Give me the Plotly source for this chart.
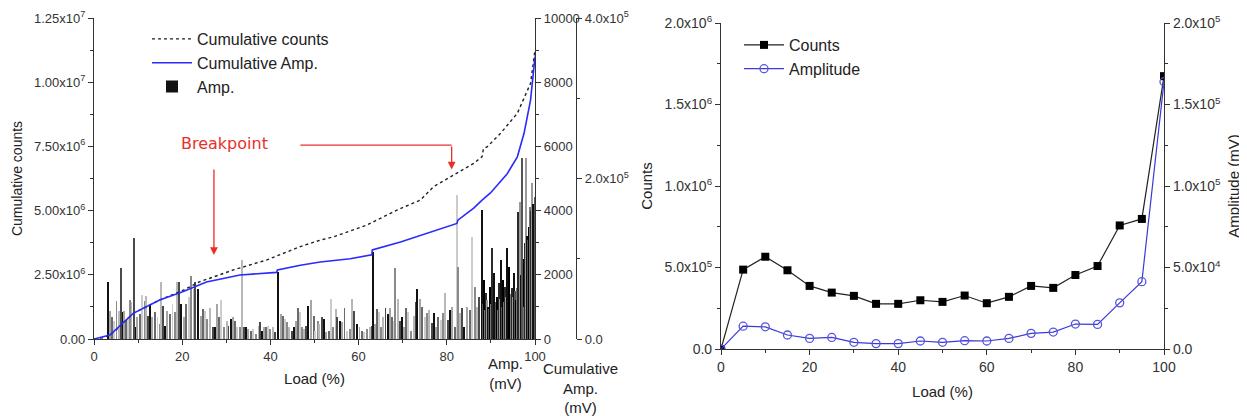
import plotly.graph_objects as go

# ---- left panel: amplitude bars + cumulative curves ----
bar_load = [3.2, 3.6, 4.0, 4.5, 5.1, 5.7, 6.1, 6.5, 6.8, 7.2, 7.8, 8.1, 8.5, 9.0, 9.5, 9.8,
            10.4, 10.9, 11.5, 11.9, 12.3, 12.6, 13.2, 13.8, 14.4, 14.9, 15.3, 15.7, 16.2, 16.6,
            17.2, 17.8, 18.3, 18.8, 19.3, 19.8, 20.4, 20.9, 21.5, 22.1, 22.6, 23.0, 23.6, 24.2,
            24.7, 25.2, 25.7, 26.4, 26.9, 27.4, 27.9, 28.4, 28.9, 29.5, 30.1, 30.5, 31.0, 31.5,
            32.0, 32.5, 33.0, 33.5, 34.0, 34.5, 35.0, 35.6, 36.1, 36.7, 37.3, 37.7, 38.0, 38.5,
            39.0, 39.5, 40.0, 40.5, 41.0, 41.7, 42.4, 42.8, 43.3, 43.8, 44.3, 44.8, 45.3, 45.8,
            46.2, 46.7, 47.1, 47.6, 48.1, 48.6, 49.2, 49.8, 50.2, 50.7, 51.1, 51.7, 52.1, 52.7,
            53.2, 53.7, 54.3, 54.8, 55.2, 55.8, 56.3, 56.8, 57.4, 58.0, 58.5, 59.0, 59.6, 60.2,
            60.8, 61.3, 61.9, 62.5, 63.0, 63.3, 63.8, 64.2, 64.6, 65.1, 65.6, 66.1, 66.6, 67.1,
            67.6, 68.0, 68.3, 68.9, 69.3, 69.8, 70.3, 70.8, 71.3, 71.9, 72.5, 73.0, 73.3, 73.9,
            74.4, 75.0, 75.5, 76.0, 76.6, 77.2, 77.6, 78.1, 78.6, 79.2, 79.7, 80.2, 80.7, 81.2,
            81.8, 82.3, 82.6, 83.0, 83.5, 84.0, 84.6, 85.2, 85.8, 86.3, 86.8, 87.3, 87.9, 88.2,
            88.4, 88.7, 88.9, 89.1, 89.4, 89.6, 89.9, 90.1, 90.3, 90.6, 90.8, 91.1, 91.3, 91.6,
            91.8, 92.0, 92.2, 92.5, 92.7, 93.0, 93.2, 93.5, 93.7, 94.0, 94.2, 94.5, 94.7, 95.0,
            95.2, 95.5, 95.7, 96.0, 96.2, 96.6, 96.9, 97.1, 97.4, 97.6, 97.8, 98.0, 98.2, 98.4,
            98.7, 98.9, 99.2, 99.4, 99.6, 99.9]
bar_amp = [1765, 880, 675, 570, 1195, 880, 2210, 830, 880, 570, 675, 1225, 1140, 3145, 385, 675,
           780, 1380, 1195, 1350, 725, 1070, 675, 830, 675, 465, 1765, 1040, 415, 880,
           780, 1090, 830, 1765, 1765, 1090, 675, 1090, 1300, 1970, 1560, 1765, 1560, 725,
           935, 880, 625, 965, 385, 365, 1090, 675, 1225, 365, 570, 415, 625, 675,
           570, 365, 365, 2460, 365, 365, 310, 260, 310, 155, 415, 520, 260, 365,
           385, 415, 310, 365, 210, 2075, 780, 725, 625, 520, 365, 260, 365, 570,
           965, 830, 365, 310, 415, 1040, 1225, 725, 260, 570, 465, 675, 625, 210,
           260, 1245, 365, 935, 675, 570, 520, 965, 260, 310, 1245, 880, 465, 365,
           260, 210, 310, 365, 415, 2700, 465, 935, 830, 365, 675, 965, 780, 965,
           675, 570, 2210, 1245, 570, 675, 365, 965, 830, 260, 725, 1140, 1560, 1245,
           1010, 675, 800, 900, 490, 800, 385, 695, 590, 800, 1420, 590, 900, 1005,
           385, 4485, 2250, 800, 955, 385, 1005, 900, 3185, 1630, 1005, 1320, 4020, 1100,
           1840, 900, 1420, 1200, 1005, 950, 1630, 1100, 2825, 1000, 2045, 1150, 1320, 900,
           1735, 1250, 2460, 1000, 1840, 1150, 1630, 1300, 2825, 1200, 2250, 1400, 1580, 1300,
           2045, 1500, 1215, 1600, 3965, 4275, 2000, 5630, 2500, 1005, 3000, 5630, 3200, 3085,
           3500, 4120, 4000, 4850, 4200, 4430]

cum_load = [0, 2.0, 3.6, 5.0, 8.9, 14.9, 20.0, 24.0, 31.6, 39.2, 46.8, 51.3, 54.3, 61.9, 68.7,
            74.0, 77.0, 80.8, 86.1, 88.0, 88.3, 89.2, 92.2, 96.0, 99.0, 100]
cum_counts = [0, 0.05e6, 0.15e6, 0.35e6, 1.0e6, 1.52e6, 1.88e6, 2.23e6, 2.69e6, 3.08e6, 3.6e6,
              3.85e6, 3.98e6, 4.44e6, 5.02e6, 5.41e6, 5.93e6, 6.32e6, 6.84e6, 7.1e6, 7.4e6,
              7.49e6, 8.01e6, 8.79e6, 9.96e6, 1.125e7]

amp_load = [0, 1.5, 3.6, 8.9, 14.9, 20.1, 25.5, 33.1, 41.4, 41.6, 46.8, 51.3, 58.1, 63.0, 63.1,
            69.5, 77.0, 82.3, 82.5, 86.1, 88.0, 89.9, 93.7, 96.0, 97.5, 99.0, 100]
cum_amp = [0, 2e3, 5e3, 3.2e4, 4.86e4, 5.9e4, 7.1e4, 7.97e4, 8.3e4, 8.6e4, 9.2e4, 9.6e4, 1.0e5,
           1.05e5, 1.11e5, 1.21e5, 1.34e5, 1.44e5, 1.48e5, 1.63e5, 1.73e5, 1.82e5, 2.06e5,
           2.27e5, 2.56e5, 2.98e5, 3.52e5]

# ---- right panel: counts / amplitude per 5% load step ----
step_load = [0, 5, 10, 15, 20, 25, 30, 35, 40, 45, 50, 55, 60, 65, 70, 75, 80, 85, 90, 95, 100]
step_counts = [0, 4.87e5, 5.66e5, 4.83e5, 3.87e5, 3.46e5, 3.26e5, 2.77e5, 2.77e5, 2.99e5, 2.89e5,
               3.28e5, 2.81e5, 3.2e5, 3.87e5, 3.75e5, 4.54e5, 5.09e5, 7.58e5, 7.98e5, 1.674e6]
step_amp = [0, 1.40e4, 1.36e4, 8.6e3, 6.5e3, 7.1e3, 4.1e3, 3.3e3, 3.3e3, 4.9e3, 4.1e3, 5.1e3,
            4.9e3, 6.5e3, 9.6e3, 1.04e4, 1.53e4, 1.51e4, 2.83e4, 4.13e4, 1.64e5]

FONT = "Liberation Sans, Arial, sans-serif"
AX = "#333333"
TXT = "#222222"

# the page body has an 8px margin, so the figure is shrunk and
# window pixel positions are converted to paper fractions
W, H, OFF = 1239, 408, 8


def px(x):
    return (x - OFF) / W


def py(y):
    return 1 - (y - OFF) / H


# gray shades for the bars, cycled; darker near failure
light_cycle = ["#111111", "#a5a5a5", "#6a6a6a", "#cccccc", "#8a8a8a", "#b8b8b8", "#4a4a4a"]
dark_cycle = ["#111111", "#555555", "#000000", "#777777", "#2a2a2a", "#9a9a9a"]
bar_colors = []
for i, x in enumerate(bar_load):
    if x < 88:
        bar_colors.append(light_cycle[i % len(light_cycle)])
    else:
        bar_colors.append(dark_cycle[i % len(dark_cycle)])

fig = go.Figure()

fig.add_trace(go.Bar(x=bar_load, y=bar_amp, width=0.22, name="Amp.",
                     marker=dict(color=bar_colors, line=dict(width=0)),
                     xaxis="x", yaxis="y", legend="legend", legendrank=3))
fig.add_trace(go.Scatter(x=cum_load, y=cum_counts, mode="lines", name="Cumulative counts",
                         line=dict(color="#222222", width=1.4, dash="dot"),
                         xaxis="x", yaxis="y2", legend="legend", legendrank=1))
fig.add_trace(go.Scatter(x=amp_load, y=cum_amp, mode="lines", name="Cumulative Amp.",
                         line=dict(color="#2a2aff", width=1.6),
                         xaxis="x", yaxis="y3", legend="legend", legendrank=2))

fig.add_trace(go.Scatter(x=step_load, y=step_counts, mode="lines+markers", name="Counts",
                         line=dict(color="#222222", width=1.2),
                         marker=dict(symbol="square", size=8, color="#000000"),
                         xaxis="x2", yaxis="y4", legend="legend2"))
fig.add_trace(go.Scatter(x=step_load, y=step_amp, mode="lines+markers", name="Amplitude",
                         line=dict(color="#3a3ad8", width=1.2),
                         marker=dict(symbol="circle-open", size=8, color="#5555dd",
                                     line=dict(width=1.3)),
                         xaxis="x2", yaxis="y5", legend="legend2"))


def sup(m, e):
    return f"{m}x10<sup>{e}</sup>"


def axis_style(tick_size):
    return dict(showline=True, linecolor=AX, linewidth=1.2, ticks="outside", ticklen=5,
                tickcolor=AX, showgrid=False, zeroline=False,
                tickfont=dict(family=FONT, size=tick_size, color=AX), automargin=False)


left_ax = axis_style(13)
right_ax = axis_style(14)
minor = dict(ticks="outside", ticklen=3, tickcolor=AX)
title_l = dict(family=FONT, size=14, color=TXT)
title_r = dict(family=FONT, size=15, color=TXT)

left_dom = [px(94), px(535)]
right_dom = [px(721), px(1164)]

fig.update_layout(
    width=W, height=H,
    margin=dict(l=0, r=0, t=0, b=0),
    paper_bgcolor="white", plot_bgcolor="white",
    font=dict(family=FONT, size=13, color=TXT),
    bargap=0,
    xaxis=dict(domain=left_dom, range=[0, 100], anchor="y", tickvals=[0, 20, 40, 60, 80, 100],
               minor=dict(dtick=10, **minor),
               title=dict(text="Load (%)", standoff=10, font=dict(family=FONT, size=15,
                                                                  color=TXT)), **left_ax),
    yaxis=dict(domain=[py(339), py(18)], range=[0, 10000], side="right",
               anchor="x", tickvals=[0, 2000, 4000, 6000, 8000, 10000],
               ticktext=["0", "2000", "4000", "6000", "8000", "10000"],
               minor=dict(dtick=1000, **minor), **left_ax),
    yaxis2=dict(overlaying="y", side="left", anchor="x", range=[0, 1.25e7],
                tickvals=[0, 2.5e6, 5e6, 7.5e6, 1e7, 1.25e7],
                ticktext=["0.00", sup("2.50", 6), sup("5.00", 6), sup("7.50", 6),
                          sup("1.00", 7), sup("1.25", 7)],
                minor=dict(tickvals=[1.25e6, 3.75e6, 6.25e6, 8.75e6, 1.125e7], **minor),
                title=dict(text="Cumulative counts", standoff=8, font=title_l), **left_ax),
    yaxis3=dict(overlaying="y", side="right", anchor="free", position=px(576),
                range=[0, 4e5], tickvals=[0, 2e5, 4e5],
                ticktext=["0.0", sup("2.0", 5), sup("4.0", 5)],
                minor=dict(tickvals=[1e5, 3e5], **minor), **left_ax),
    xaxis2=dict(domain=right_dom, range=[0, 100], anchor="y4",
                tickvals=[0, 20, 40, 60, 80, 100], minor=dict(dtick=10, **minor),
                title=dict(text="Load (%)", standoff=12, font=title_r), **right_ax),
    yaxis4=dict(domain=[py(349), py(23)], range=[0, 2e6], anchor="x2",
                tickvals=[0, 5e5, 1e6, 1.5e6, 2e6],
                ticktext=["0.0", sup("5.0", 5), sup("1.0", 6), sup("1.5", 6), sup("2.0", 6)],
                minor=dict(tickvals=[2.5e5, 7.5e5, 1.25e6, 1.75e6], **minor),
                title=dict(text="Counts", standoff=8, font=title_r), **right_ax),
    yaxis5=dict(overlaying="y4", side="right", anchor="x2", range=[0, 2e5],
                tickvals=[0, 5e4, 1e5, 1.5e5, 2e5],
                ticktext=["0.0", sup("5.0", 4), sup("1.0", 5), sup("1.5", 5), sup("2.0", 5)],
                minor=dict(tickvals=[2.5e4, 7.5e4, 1.25e5, 1.75e5], **minor),
                title=dict(text="Amplitude (mV)", standoff=8, font=title_r), **right_ax),
    legend=dict(x=px(147), y=py(22), xanchor="left", yanchor="top", bgcolor="rgba(0,0,0,0)",
                font=dict(family=FONT, size=16, color=TXT), tracegroupgap=0,
                itemwidth=40),
    legend2=dict(x=px(739), y=py(28), xanchor="left", yanchor="top", bgcolor="rgba(0,0,0,0)",
                 font=dict(family=FONT, size=16, color=TXT), tracegroupgap=0,
                 itemwidth=40),
)

# secondary right-axis titles sit under the axes
fig.add_annotation(x=px(505), y=py(353), xref="paper", yref="paper", yanchor="top",
                   text="Amp.<br>(mV)", showarrow=False,
                   font=dict(family=FONT, size=15, color=TXT))
fig.add_annotation(x=px(580), y=py(358), xref="paper", yref="paper", yanchor="top",
                   text="Cumulative<br>Amp.<br>(mV)", showarrow=False,
                   font=dict(family=FONT, size=15, color=TXT))

# breakpoint markers
RED = "#e8302a"
fig.add_annotation(x=29.5, y=7.6e6, xref="x", yref="y2", text="Breakpoint", showarrow=False,
                   font=dict(family="DejaVu Sans, Verdana, sans-serif", size=16, color=RED))
fig.add_annotation(x=27.2, y=3.27e6, xref="x", yref="y2", ax=27.2, ay=6.66e6, axref="x",
                   ayref="y2", text="", showarrow=True, arrowhead=2, arrowsize=1.2,
                   arrowwidth=1.3, arrowcolor=RED)
fig.add_shape(type="line", x0=46.8, x1=81.1, y0=7.55e6, y1=7.55e6, xref="x", yref="y2",
              line=dict(color=RED, width=1.3))
fig.add_annotation(x=81.1, y=6.6e6, xref="x", yref="y2", ax=81.1, ay=7.55e6, axref="x",
                   ayref="y2", text="", showarrow=True, arrowhead=2, arrowsize=1.2,
                   arrowwidth=1.3, arrowcolor=RED)

fig.write_html("out.html")
